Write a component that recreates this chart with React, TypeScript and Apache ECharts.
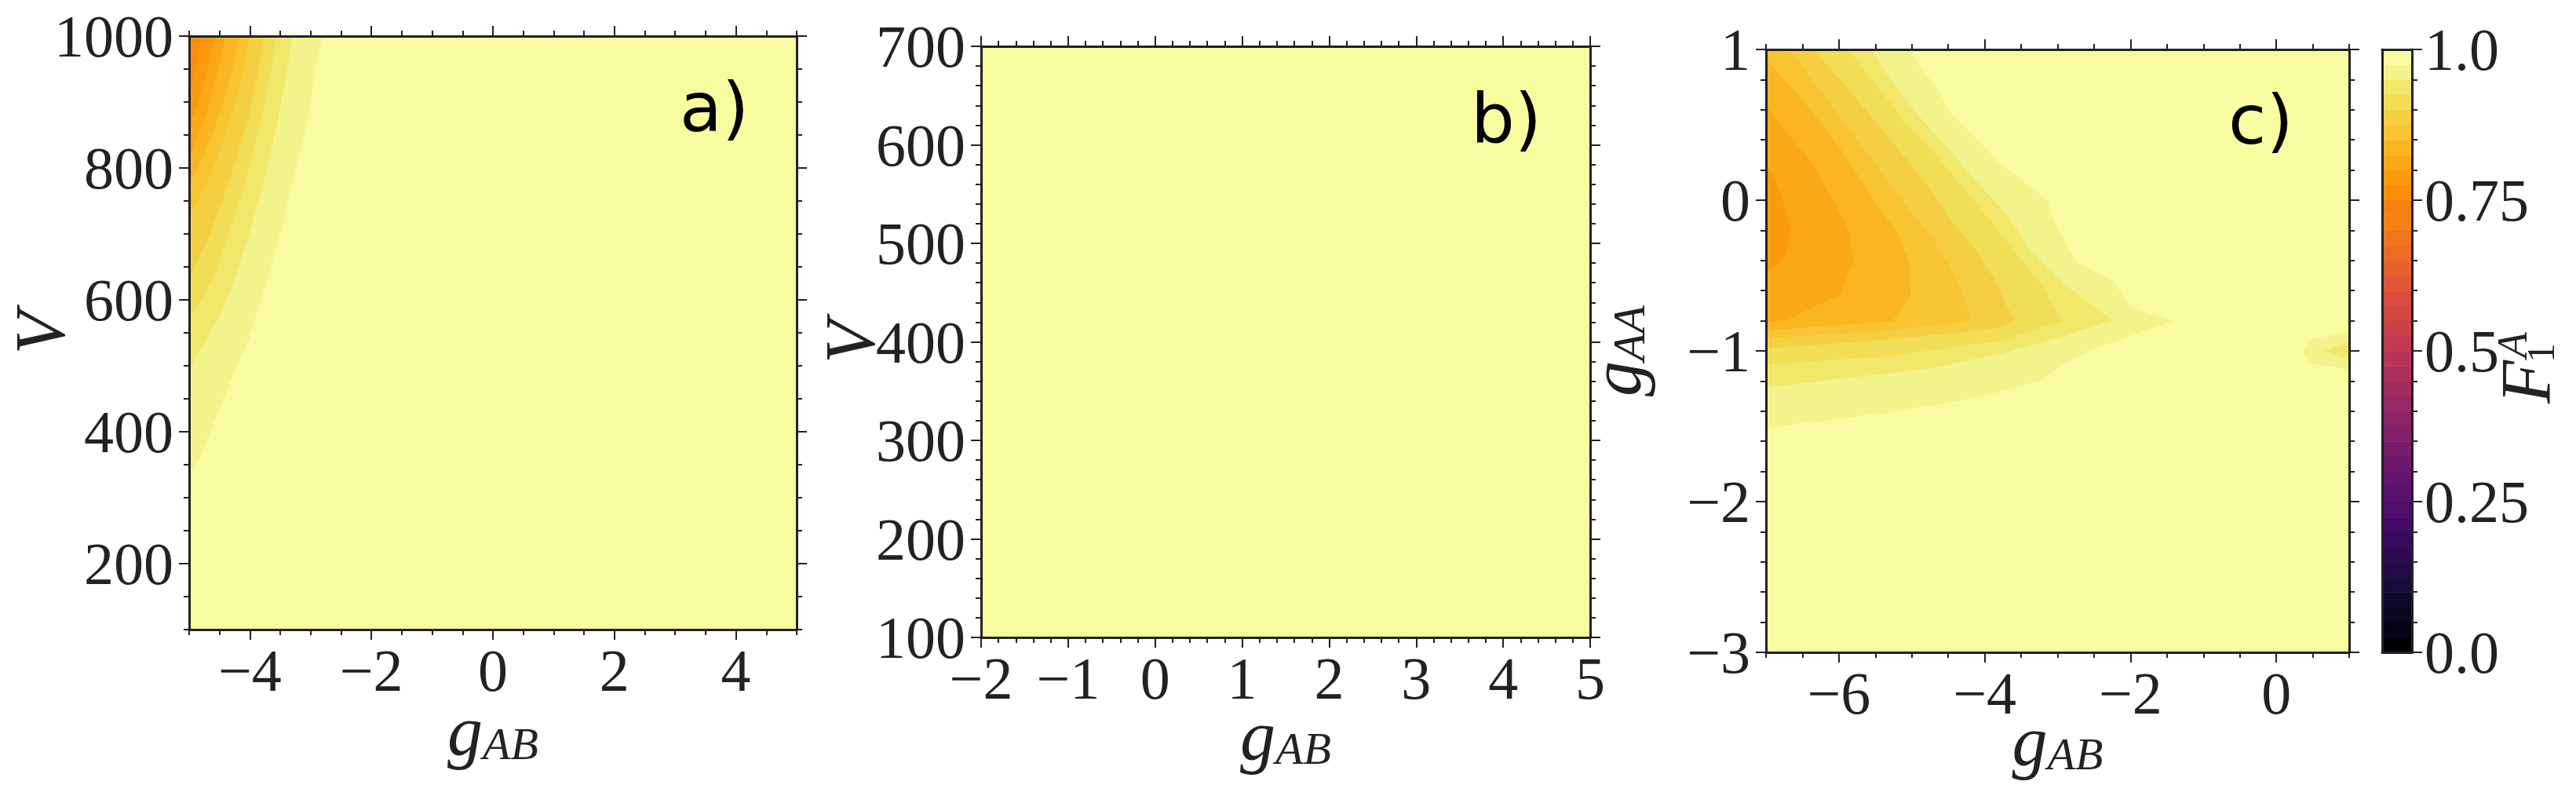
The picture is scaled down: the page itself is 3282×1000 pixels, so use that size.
import React, { useEffect, useRef } from "react";
import * as echarts from "echarts";

// ---------------- data ----------------
// contour levels of F_1^A (40 bands of 0.025)
const LEVELS = [
  0, 0.025, 0.05, 0.075, 0.1, 0.125, 0.15, 0.175, 0.2, 0.225, 0.25, 0.275, 0.3, 0.325,
  0.35, 0.375, 0.4, 0.425, 0.45, 0.475, 0.5, 0.525, 0.55, 0.575, 0.6, 0.625, 0.65, 0.675,
  0.7, 0.725, 0.75, 0.775, 0.8, 0.825, 0.85, 0.875, 0.9, 0.925, 0.95, 0.975, 1,
];

// panel a) : V vs g_AB
const A_X_RANGE = [-5, 5];
const A_Y_RANGE = [100, 1000];
const A_X_TICKS = [-4, -2, 0, 2, 4];
const A_Y_TICKS = [200, 400, 600, 800, 1000];
const A_F0975 = [[-2.8, 1000], [-2.93, 951], [-3.01, 890], [-3.16, 834], [-3.31, 778], [-3.44, 722], [-3.61, 667], [-3.8, 606], [-4.02, 541], [-4.27, 489], [-4.53, 429], [-4.79, 368], [-5, 331]];
const A_F0950 = [[-3.31, 1000], [-3.4, 945], [-3.52, 885], [-3.66, 825], [-3.82, 765], [-4.0, 705], [-4.22, 640], [-4.48, 580], [-4.75, 535], [-5, 496]];
const A_F0925 = [[-3.57, 1000], [-3.66, 945], [-3.79, 885], [-3.94, 825], [-4.12, 765], [-4.33, 705], [-4.58, 640], [-4.8, 600], [-5, 573]];
const A_F0900 = [[-3.76, 1000], [-3.87, 945], [-4.01, 885], [-4.19, 825], [-4.4, 765], [-4.66, 700], [-5, 634]];
const A_F0875 = [[-4.0, 1000], [-4.12, 945], [-4.29, 885], [-4.5, 825], [-4.75, 770], [-5, 727]];
const A_F0850 = [[-4.17, 1000], [-4.3, 945], [-4.49, 885], [-4.73, 825], [-5, 774]];
const A_F0825 = [[-4.4, 1000], [-4.53, 945], [-4.73, 880], [-5, 816]];
const A_F0800 = [[-4.58, 1000], [-4.7, 950], [-4.85, 900], [-5, 862]];
const A_F0775 = [[-4.79, 1000], [-4.88, 960], [-5, 914]];

// panel b) : V vs g_AB  (F_1^A above 0.975 everywhere)
const B_X_RANGE = [-2, 5];
const B_Y_RANGE = [100, 700];
const B_X_TICKS = [-2, -1, 0, 1, 2, 3, 4, 5];
const B_Y_TICKS = [100, 200, 300, 400, 500, 600, 700];

// panel c) : g_AA vs g_AB
const C_X_RANGE = [-7, 1];
const C_Y_RANGE = [-3, 1];
const C_X_TICKS = [-6, -4, -2, 0];
const C_Y_TICKS = [-3, -2, -1, 0, 1];
const C_F0975 = [[-5.05, 1], [-4.9, 0.9], [-4.78, 0.82], [-4.6, 0.7], [-4.49, 0.59], [-4.17, 0.44], [-3.77, 0.23], [-3.4, 0.1], [-3.14, 0.0], [-3.07, -0.13], [-2.95, -0.23], [-2.75, -0.41], [-2.25, -0.53], [-2.01, -0.71], [-1.43, -0.8], [-2.58, -1.0], [-2.95, -1.09], [-3.21, -1.19], [-3.95, -1.29], [-4.37, -1.33], [-5.53, -1.42], [-7, -1.51]];
const C_F0950 = [[-5.57, 1], [-5.32, 0.82], [-5.11, 0.68], [-4.82, 0.51], [-4.46, 0.32], [-4.24, 0.19], [-3.69, -0.1], [-3.38, -0.33], [-2.91, -0.56], [-2.25, -0.8], [-3.42, -0.97], [-3.74, -1.01], [-4.68, -1.11], [-7, -1.24]];
const C_F0925 = [[-5.87, 1], [-5.61, 0.835], [-5.32, 0.66], [-5.11, 0.52], [-4.82, 0.385], [-4.31, 0.09], [-3.9, -0.15], [-3.5, -0.4], [-3.22, -0.56], [-2.95, -0.8], [-3.79, -0.93], [-5.26, -1.03], [-7, -1.09]];
const C_F0900 = [[-6.35, 1], [-5.95, 0.78], [-5.5, 0.52], [-5.11, 0.29], [-4.75, 0.07], [-4.39, -0.18], [-4.17, -0.3], [-3.9, -0.5], [-3.6, -0.8], [-3.84, -0.85], [-5.26, -0.92], [-7, -0.983]];
const C_F0875 = [[-6.68, 1], [-5.94, 0.52], [-5.61, 0.31], [-5.29, 0.1], [-4.96, -0.11], [-4.75, -0.23], [-4.5, -0.42], [-4.32, -0.6], [-4.18, -0.8], [-5.26, -0.86], [-7, -0.914]];
const C_F0850 = [[-7, 0.93], [-6.6, 0.72], [-6.26, 0.52], [-5.97, 0.33], [-5.68, 0.12], [-5.47, -0.04], [-5.18, -0.23], [-5.04, -0.42], [-5.02, -0.63], [-5.26, -0.8], [-7, -0.862]];
const C_F0825 = [[-7, 0.62], [-6.75, 0.47], [-6.45, 0.3], [-6.08, 0.0], [-5.86, -0.21], [-5.8, -0.4], [-5.99, -0.63], [-6.27, -0.69], [-6.7, -0.79], [-7, -0.81]];
const C_F0800 = [[-7, 0.24], [-6.88, 0.14], [-6.77, 0.0], [-6.66, -0.19], [-6.72, -0.35], [-6.85, -0.43], [-7, -0.47]];
const C_BLOB0975 = [[1.0, -0.87], [0.447, -0.93], [0.368, -1.0], [0.447, -1.074], [1.0, -1.126]];
const C_BLOB0950 = [[1.0, -0.94], [0.658, -1.0], [1.0, -1.06]];

// colour bar
const CB_TICKS = [0, 0.25, 0.5, 0.75, 1];
const CB_TICK_LABELS = ["0.0", "0.25", "0.5", "0.75", "1.0"];

// ---------------- styles ----------------
const INK = "#222222";
const SERIF = "'Liberation Serif', 'DejaVu Serif', serif";
const SANS = "'DejaVu Sans', 'Noto Sans', sans-serif";
const TICK_FONT = 76;
const NAME_FONT = 90;

// inferno-like palette, one colour per band
const INFERNO_ANCHORS = ["#000004", "#160b39", "#420a68", "#6a176e", "#932667", "#bc3754", "#dd513a", "#f37819", "#fca50a", "#f6d746", "#fcffa4"];
const TOP_BANDS = ["#f47f13", "#f98e0b", "#fb9b0c", "#fba815", "#fab522", "#f8c431", "#f5cf42", "#f2de55", "#f1e76b", "#f3f38b", "#f8fba0"];

function hexToRgb(h: string) {
  return [parseInt(h.slice(1, 3), 16), parseInt(h.slice(3, 5), 16), parseInt(h.slice(5, 7), 16)];
}
function sampleAnchors(t: number) {
  const n = INFERNO_ANCHORS.length - 1;
  const f = Math.min(n - 1e-9, t * n);
  const i = Math.floor(f);
  const u = f - i;
  const a = hexToRgb(INFERNO_ANCHORS[i]);
  const b = hexToRgb(INFERNO_ANCHORS[i + 1]);
  const c = a.map((v, k) => Math.round(v + (b[k] - v) * u));
  return `rgb(${c[0]},${c[1]},${c[2]})`;
}
const NB = LEVELS.length - 1;
const BAND_COLORS: string[] = [];
for (let k = 0; k < NB; k++) {
  const topIdx = k - (NB - TOP_BANDS.length);
  BAND_COLORS.push(topIdx >= 0 ? TOP_BANDS[topIdx] : sampleAnchors(k / (NB - 1)));
}

const LAYOUT = {
  a: { left: 241, top: 46, width: 774, height: 756 },
  b: { left: 1250, top: 59, width: 776, height: 753 },
  c: { left: 2250, top: 63, width: 743, height: 768 },
  cb: { left: 3035, top: 63, width: 38, height: 768 },
};

// ---------------- helpers ----------------
function steps(lo: number, hi: number, step: number) {
  const out: number[] = [];
  const n = Math.round((hi - lo) / step);
  for (let i = 0; i <= n; i++) out.push(Math.round((lo + i * step) * 1e6) / 1e6);
  return out;
}
const fmtNum = (v: number) => String(v).replace("-", "\u2212");

type Contour = { level: number; path: number[][] };

function buildPolys(contours: Contour[], xr: number[], yr: number[]) {
  return contours.map((c) => {
    const pts = c.path.slice();
    const first = pts[0];
    const last = pts[pts.length - 1];
    // region touching top-left corner: close through the corner
    if (first[1] === yr[1] && last[0] === xr[0]) pts.push([xr[0], yr[1]]);
    const band = LEVELS.indexOf(c.level) - 1;
    return { pts, color: BAND_COLORS[band], level: c.level };
  });
}

const A_CONTOURS: Contour[] = [
  { level: 0.975, path: A_F0975 },
  { level: 0.95, path: A_F0950 },
  { level: 0.925, path: A_F0925 },
  { level: 0.9, path: A_F0900 },
  { level: 0.875, path: A_F0875 },
  { level: 0.85, path: A_F0850 },
  { level: 0.825, path: A_F0825 },
  { level: 0.8, path: A_F0800 },
  { level: 0.775, path: A_F0775 },
];
const B_CONTOURS: Contour[] = [];
const C_CONTOURS: Contour[] = [
  { level: 0.975, path: C_F0975 },
  { level: 0.975, path: C_BLOB0975 },
  { level: 0.95, path: C_F0950 },
  { level: 0.95, path: C_BLOB0950 },
  { level: 0.925, path: C_F0925 },
  { level: 0.9, path: C_F0900 },
  { level: 0.875, path: C_F0875 },
  { level: 0.85, path: C_F0850 },
  { level: 0.825, path: C_F0825 },
  { level: 0.8, path: C_F0800 },
];

function mkAxis(o: any) {
  const ax: any = {
    gridIndex: o.gi,
    type: "value",
    min: o.range[0],
    max: o.range[1],
    position: o.position,
    z: 10,
    axisLine: { show: true, onZero: false, lineStyle: { color: INK, width: 3 } },
    axisTick: o.ticks
      ? { show: true, customValues: o.ticks, length: o.len, lineStyle: { color: INK, width: 2 } }
      : { show: false },
    axisLabel: o.labels
      ? {
          show: true,
          customValues: o.labels,
          formatter: o.fmt || fmtNum,
          margin: o.margin,
          fontFamily: SERIF,
          fontSize: TICK_FONT,
          color: INK,
          hideOverlap: false,
        }
      : { show: false },
    splitLine: { show: false },
    show: o.hidden ? false : true,
    nameMoveOverlap: false,
  };
  if (o.name) {
    ax.name = o.name;
    ax.nameLocation = "middle";
    ax.nameGap = o.nameGap;
    ax.nameTextStyle = o.nameStyle;
  }
  return ax;
}

const RICH = {
  i: { fontFamily: SERIF, fontStyle: "italic", fontSize: NAME_FONT, lineHeight: NAME_FONT, color: INK, verticalAlign: "bottom" },
  s: { fontFamily: SERIF, fontStyle: "italic", fontSize: 58, lineHeight: 48, color: INK, verticalAlign: "bottom" },
};
const V_STYLE = { fontFamily: SERIF, fontStyle: "italic", fontSize: NAME_FONT, color: INK };

function mkGrid(rect: any, extra: any) {
  return { ...rect, ...extra, containLabel: false, outerBoundsMode: "none" };
}

function buildOption() {
  const grids: any[] = [];
  const xAxes: any[] = [];
  const yAxes: any[] = [];
  const series: any[] = [];

  const panels = [
    { L: LAYOUT.a, xr: A_X_RANGE, yr: A_Y_RANGE, xt: A_X_TICKS, yt: A_Y_TICKS, xm: steps(-5, 5, 0.5), ym: steps(100, 1000, 50), cont: A_CONTOURS, yName: "V", yGap: 145, yRich: false, xGap: 84 },
    { L: LAYOUT.b, xr: B_X_RANGE, yr: B_Y_RANGE, xt: B_X_TICKS, yt: B_Y_TICKS, xm: steps(-2, 5, 0.2), ym: steps(100, 700, 20), cont: B_CONTOURS, yName: "V", yGap: 122, yRich: false, xGap: 80 },
    { L: LAYOUT.c, xr: C_X_RANGE, yr: C_Y_RANGE, xt: C_X_TICKS, yt: C_Y_TICKS, xm: steps(-7, 1, 0.5), ym: steps(-3, 1, 0.2), cont: C_CONTOURS, yName: "{i|g}{s|AA}", yGap: 146, yRich: true, xGap: 68 },
  ];

  panels.forEach((p, idx) => {
    const gMain = grids.length;
    grids.push(mkGrid(p.L, { show: true, backgroundColor: BAND_COLORS[NB - 1], borderWidth: 0 }));
    const gOver = grids.length;
    grids.push(mkGrid(p.L, { show: false }));
    const xBase = xAxes.length;
    const yBase = yAxes.length;
    // minor ticks on all four sides
    xAxes.push(mkAxis({ gi: gMain, range: p.xr, position: "bottom", ticks: p.xm, len: 7 }));
    xAxes.push(mkAxis({ gi: gMain, range: p.xr, position: "top", ticks: p.xm, len: 7 }));
    yAxes.push(mkAxis({ gi: gMain, range: p.yr, position: "left", ticks: p.ym, len: 7 }));
    yAxes.push(mkAxis({ gi: gMain, range: p.yr, position: "right", ticks: p.ym, len: 7 }));
    // major ticks, labels, names
    xAxes.push(
      mkAxis({
        gi: gOver, range: p.xr, position: "bottom", ticks: p.xt, len: 13, labels: p.xt, margin: 14,
        name: "{i|g}{s|AB}", nameGap: p.xGap, nameStyle: { rich: RICH },
      })
    );
    xAxes.push(mkAxis({ gi: gOver, range: p.xr, position: "top", ticks: p.xt, len: 13 }));
    yAxes.push(
      mkAxis({
        gi: gOver, range: p.yr, position: "left", ticks: p.yt, len: 13, labels: p.yt, margin: 20,
        name: p.yName, nameGap: p.yGap, nameStyle: p.yRich ? { rich: RICH } : V_STYLE,
      })
    );
    yAxes.push(mkAxis({ gi: gOver, range: p.yr, position: "right", ticks: p.yt, len: 13 }));

    const polys = buildPolys(p.cont, p.xr, p.yr);
    series.push({
      type: "custom",
      name: "panel" + idx,
      coordinateSystem: "cartesian2d",
      xAxisIndex: xBase,
      yAxisIndex: yBase,
      silent: true,
      clip: true,
      z: 2,
      data: polys.map((q) => ({ value: [q.pts[0][0], q.pts[0][1], q.level] })),
      renderItem: (params: any, api: any) => {
        const q = polys[params.dataIndex];
        return {
          type: "polygon",
          shape: { points: q.pts.map((pt) => api.coord(pt)) },
          style: { fill: q.color, stroke: q.color, lineWidth: 0.6 },
        };
      },
    });
  });

  // colour bar
  const gCb = grids.length;
  grids.push(mkGrid(LAYOUT.cb, { show: false }));
  const gCbO = grids.length;
  grids.push(mkGrid(LAYOUT.cb, { show: false }));
  const cbX = xAxes.length;
  const cbY = yAxes.length;
  xAxes.push(mkAxis({ gi: gCb, range: [0, 1], position: "bottom" }));
  xAxes.push(mkAxis({ gi: gCb, range: [0, 1], position: "top" }));
  yAxes.push(mkAxis({ gi: gCb, range: [0, 1], position: "left" }));
  yAxes.push(mkAxis({ gi: gCb, range: [0, 1], position: "right", ticks: steps(0, 1, 0.05), len: 7 }));
  xAxes.push(mkAxis({ gi: gCbO, range: [0, 1], position: "bottom", hidden: true }));
  yAxes.push(
    mkAxis({
      gi: gCbO, range: [0, 1], position: "right", ticks: CB_TICKS, len: 13, labels: CB_TICKS, margin: 16,
      fmt: (v: number) => CB_TICK_LABELS[CB_TICKS.indexOf(v)] ?? String(v),
    })
  );
  const bands = LEVELS.slice(0, NB).map((lo, k) => ({ lo, hi: LEVELS[k + 1], color: BAND_COLORS[k] }));
  series.push({
    type: "custom",
    name: "colorbar",
    coordinateSystem: "cartesian2d",
    xAxisIndex: cbX,
    yAxisIndex: cbY,
    silent: true,
    z: 2,
    data: bands.map((b) => ({ value: [0.5, (b.lo + b.hi) / 2] })),
    renderItem: (params: any, api: any) => {
      const b = bands[params.dataIndex];
      const p0 = api.coord([0, b.hi]);
      const p1 = api.coord([1, b.lo]);
      return {
        type: "rect",
        shape: { x: p0[0], y: p0[1], width: p1[0] - p0[0], height: p1[1] - p0[1] + 0.5 },
        style: { fill: b.color },
      };
    },
  });

  const letter = (txt: string, x: number, y: number) => ({
    type: "text",
    x,
    y,
    z: 20,
    style: {
      text: txt,
      fontFamily: SANS,
      fontSize: 88,
      fill: "#000",
      align: "left",
      verticalAlign: "top",
      textAlign: "left",
      textVerticalAlign: "top",
    },
  });

  const graphic = [
    letter("a)", 866, 92),
    letter("b)", 1874, 106),
    letter("c)", 2839, 108),
    {
      type: "group",
      x: 3218,
      y: 514,
      rotation: Math.PI / 2,
      z: 20,
      children: [
        { type: "text", x: 0, y: 0, style: { text: "F", fontFamily: SERIF, fontStyle: "italic", fontSize: NAME_FONT, fill: INK, align: "left", verticalAlign: "middle", textAlign: "left", textVerticalAlign: "middle" } },
        { type: "text", x: 58, y: -17, style: { text: "A", fontFamily: SERIF, fontStyle: "italic", fontSize: 54, fill: INK, align: "left", verticalAlign: "middle", textAlign: "left", textVerticalAlign: "middle" } },
        { type: "text", x: 52, y: 19, style: { text: "1", fontFamily: SERIF, fontSize: 50, fill: INK, align: "left", verticalAlign: "middle", textAlign: "left", textVerticalAlign: "middle" } },
      ],
    },
  ];

  return {
    animation: false,
    backgroundColor: "#ffffff",
    grid: grids,
    xAxis: xAxes,
    yAxis: yAxes,
    series,
    graphic,
  };
}

export default function App() {
  const ref = useRef<HTMLDivElement>(null);
  useEffect(() => {
    document.body.style.margin = "0";
    const chart = echarts.init(ref.current as HTMLDivElement, null, { renderer: "svg" });
    chart.setOption(buildOption() as any);
    return () => chart.dispose();
  }, []);
  return <div ref={ref} style={{ width: 3282, height: 1000, background: "#fff" }} />;
}
